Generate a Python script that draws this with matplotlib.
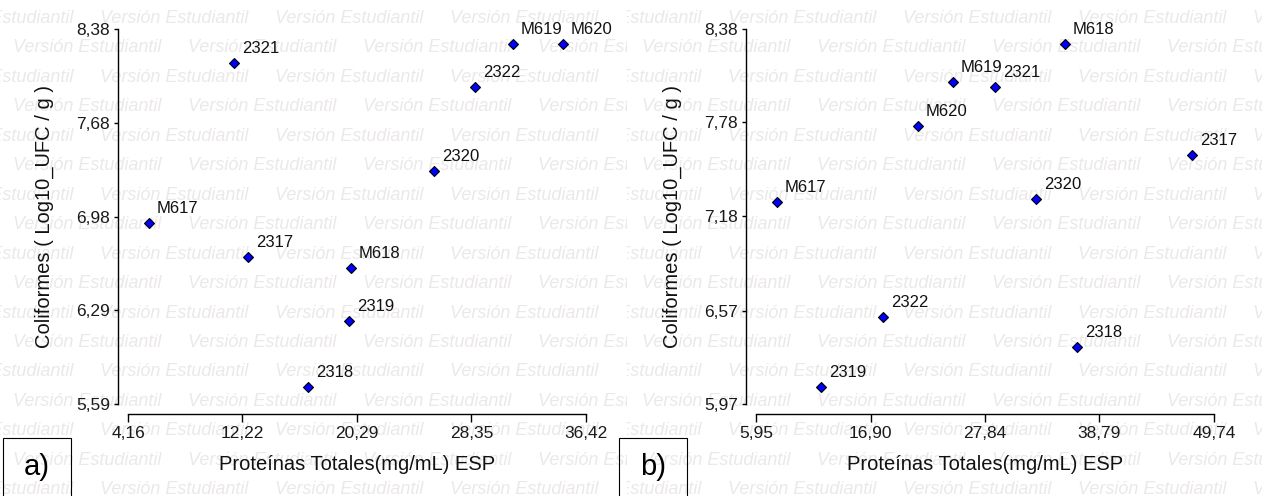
import matplotlib
matplotlib.use("Agg")
import matplotlib.pyplot as plt
from matplotlib.patches import Rectangle
from matplotlib.transforms import Bbox, TransformedBbox

plt.rcParams['font.family'] = ['Liberation Sans', 'DejaVu Sans']

W, H = 1262, 496

# panel a)
labels_a = ['2321', 'M617', '2317', '2318', 'M618', '2319', '2320', '2322', 'M619', 'M620']
prot_a = [11.63, 5.64, 12.61, 16.84, 19.87, 19.73, 25.72, 28.60, 31.28, 34.80]
coli_a = [8.126, 6.937, 6.684, 5.716, 6.602, 6.207, 7.324, 7.948, 8.268, 8.268]
xticks_a = [4.16, 12.22, 20.29, 28.35, 36.42]
yticks_a = [5.59, 6.29, 6.98, 7.68, 8.38]

# panel b)
labels_b = ['M617', 'M620', 'M619', '2321', 'M618', '2317', '2320', '2322', '2319', '2318']
prot_b = [7.96, 21.44, 24.78, 28.80, 35.49, 47.63, 32.72, 18.09, 12.16, 36.64]
coli_b = [7.268, 7.757, 8.039, 8.007, 8.284, 7.570, 7.287, 6.529, 6.079, 6.336]
xticks_b = [5.95, 16.90, 27.84, 38.79, 49.74]
yticks_b = [5.97, 6.57, 7.18, 7.78, 8.38]

xlabel = 'Proteínas Totales(mg/mL) ESP'
ylabel = 'Coliformes ( Log10_UFC / g )'
watermark = 'Versión Estudiantil'

fig = plt.figure(figsize=(W / 100, H / 100), dpi=100)
fig.patch.set_facecolor('white')


def fmt(v):
    return f'{v:.2f}'.replace('.', ',')


def add_watermark(x0, x1, even_start, odd_start):
    clip = TransformedBbox(Bbox.from_extents(x0 / W, 0, x1 / W, 1), fig.transFigure)
    for k in range(17):
        yb = 17 + 29.45 * k + 6
        start = even_start if k % 2 == 0 else odd_start
        x = start
        while x < x1:
            t = fig.text(x / W, 1 - yb / H, watermark, style='italic', fontsize=13,
                         color='#ece8e8', va='baseline', ha='left', zorder=-5)
            t.set_clip_box(clip)
            t.set_clip_on(True)
            x += 175


def draw_panel(left, xs, ys, labels, xticks, yticks, tag, box_x):
    ax = fig.add_axes([left / W, 1 - 404 / H, 458 / W, 375 / H])
    ax.patch.set_visible(False)
    ax.plot(xs, ys, linestyle='none', marker='D', markersize=5.2,
            markerfacecolor='#0000ff', markeredgecolor='black', markeredgewidth=0.8,
            zorder=3)
    for lab, x, y in zip(labels, xs, ys):
        ax.annotate(lab, (x, y), xytext=(5.8, 7.2), textcoords='offset points',
                    va='baseline', ha='left', fontsize=12, color='#111111')
    ax.set_xlim(xticks[0], xticks[-1])
    ax.set_ylim(yticks[0], yticks[-1])
    ax.set_xticks(xticks)
    ax.set_yticks(yticks)
    ax.set_xticklabels([fmt(v) for v in xticks])
    ax.set_yticklabels([fmt(v) for v in yticks])
    for s in ['top', 'right']:
        ax.spines[s].set_visible(False)
    ax.spines['left'].set_position(('outward', 7.2))
    ax.spines['bottom'].set_position(('outward', 7.2))
    ax.spines['left'].set_bounds(yticks[0], yticks[-1])
    ax.spines['bottom'].set_bounds(xticks[0], xticks[-1])
    for s in ['left', 'bottom']:
        ax.spines[s].set_linewidth(1.0)
    ax.tick_params(axis='y', direction='out', length=3.2, width=1.0, pad=2.5,
                   labelsize=12.5, labelcolor='#1a1a1a')
    ax.tick_params(axis='x', direction='out', length=5.5, width=1.0, pad=3,
                   labelsize=12.5, labelcolor='#1a1a1a')
    ax.text(0.5, -0.16, xlabel, transform=ax.transAxes, ha='center', va='center',
            fontsize=14.5, color='#111111')
    ax.text(-0.183, 0.5, ylabel, transform=ax.transAxes, ha='center', va='center',
            rotation=90, fontsize=14.5, color='#111111')
    # panel tag box
    fig.add_artist(Rectangle((box_x / W, -0.05), 68 / W, 58 / H + 0.05,
                             transform=fig.transFigure, fill=False,
                             edgecolor='black', linewidth=0.8))
    fig.text((box_x + 34) / W, 1 - 467 / H, tag, ha='center', va='center', fontsize=21)
    return ax


add_watermark(0, 627, -75, 13)
add_watermark(627, W, 553, 467)

draw_panel(128, prot_a, coli_a, labels_a, xticks_a, yticks_a, 'a)', 3)
draw_panel(756, prot_b, coli_b, labels_b, xticks_b, yticks_b, 'b)', 619)

fig.savefig('out.png', dpi=100)
